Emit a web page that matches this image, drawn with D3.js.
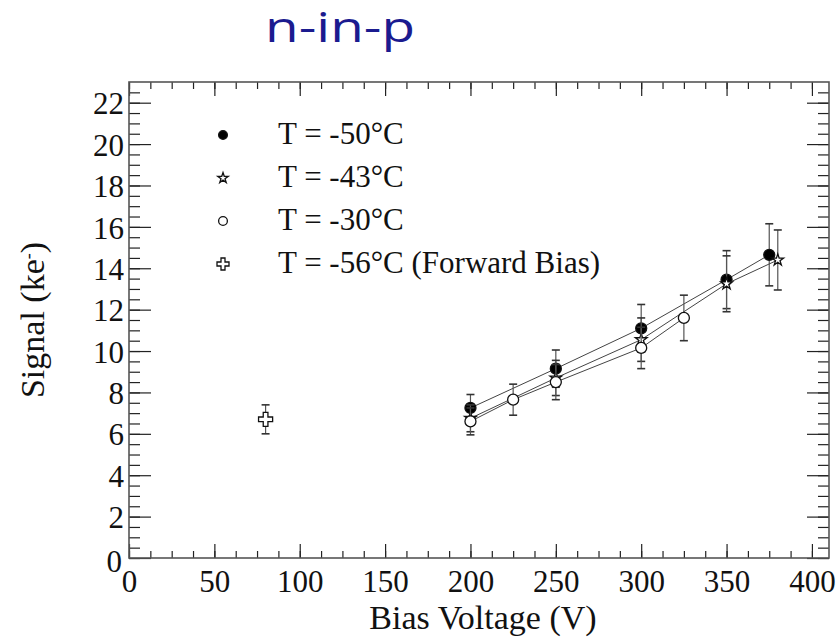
<!DOCTYPE html>
<html>
<head>
<meta charset="utf-8">
<script src="https://cdn.jsdelivr.net/npm/d3@7"></script>
<style>
  body { margin: 0; background: #fff; }
  svg text { font-family: "Liberation Serif", "Times New Roman", serif; fill: #111; }
</style>
</head>
<body>
<div id="chart"></div>
<script>
// data
var xTickValues = [0, 50, 100, 150, 200, 250, 300, 350, 400];
var yTickValues = [0, 2, 4, 6, 8, 10, 12, 14, 16, 18, 20, 22];

var voltsM50 = [200, 250, 300, 350, 375];
var signalM50 = [7.25, 9.15, 11.1, 13.45, 14.65];
var errM50 = [0.65, 0.9, 1.15, 1.4, 1.5];

var voltsM43 = [200, 250, 300, 350, 380];
var signalM43 = [6.75, 8.7, 10.55, 13.25, 14.4];
var errM43 = [0.65, 0.85, 1.05, 1.35, 1.45];

var voltsM30 = [200, 225, 250, 300, 325];
var signalM30 = [6.6, 7.65, 8.5, 10.15, 11.6];
var errM30 = [0.65, 0.75, 0.85, 1.0, 1.1];

var voltsFwd = [80];
var signalFwd = [6.7];
var errFwd = [0.7];

var legendLabels = ["T = -50°C", "T = -43°C", "T = -30°C", "T = -56°C (Forward Bias)"];

var width = 837, height = 639;
var frameL = 129, frameR = 829, frameT = 82, frameB = 558;

var svg = d3.select("#chart").append("svg")
  .attr("width", width)
  .attr("height", height);

var x = d3.scaleLinear().domain([0, 410]).range([frameL, frameR]);
var y = d3.scaleLinear().domain([0, 23]).range([frameB, frameT]);

//title
svg.append("text")
  .attr("x", 265).attr("y", 42)
  .attr("textLength", 150).attr("lengthAdjust", "spacingAndGlyphs")
  .style("font-family", "'Open Sans', 'DejaVu Sans', sans-serif")
  .style("font-size", "42px")
  .style("fill", "#1b1b8f")
  .text("n-in-p");

//minor ticks, every 12.5 V and 0.5 ke
var xMinor = d3.range(0, 410, 12.5);
var yMinor = d3.range(0, 23, 0.5);

function tickGroup(axis, tx, ty) {
  var g = svg.append("g").attr("transform", "translate(" + tx + "," + ty + ")").call(axis);
  g.select(".domain").remove();
  g.selectAll("line").attr("stroke", "#222").attr("stroke-width", 1.2);
  g.selectAll("text").remove();
  return g;
}

// bottom / top
tickGroup(d3.axisTop(x).tickValues(xMinor).tickSize(7), 0, frameB);
tickGroup(d3.axisTop(x).tickValues(xTickValues).tickSize(14), 0, frameB);
tickGroup(d3.axisBottom(x).tickValues(xMinor).tickSize(7), 0, frameT);
tickGroup(d3.axisBottom(x).tickValues(xTickValues).tickSize(14), 0, frameT);
// left / right
tickGroup(d3.axisRight(y).tickValues(yMinor).tickSize(11), frameL, 0);
tickGroup(d3.axisRight(y).tickValues(yTickValues).tickSize(22), frameL, 0);
tickGroup(d3.axisLeft(y).tickValues(yMinor).tickSize(11), frameR, 0);
tickGroup(d3.axisLeft(y).tickValues(yTickValues).tickSize(22), frameR, 0);

// frame
svg.append("rect")
  .attr("x", frameL).attr("y", frameT)
  .attr("width", frameR - frameL).attr("height", frameB - frameT)
  .attr("fill", "none").attr("stroke", "#555").attr("stroke-width", 1.6);

// tick labels
var xLab = svg.append("g").attr("transform", "translate(0," + frameB + ")")
  .call(d3.axisBottom(x).tickValues(xTickValues).tickSize(0).tickPadding(0));
xLab.select(".domain").remove();
xLab.selectAll("text")
  .attr("y", 34).attr("dy", null)
  .style("font-size", "31px").style("font-family", "'Liberation Serif', serif").attr("fill", "#111");

var yLab = svg.append("g").attr("transform", "translate(" + frameL + ",0)")
  .call(d3.axisLeft(y).tickValues(yTickValues).tickSize(0).tickPadding(0));
yLab.select(".domain").remove();
yLab.selectAll("text")
  .attr("x", -5).attr("dy", "0.36em")
  .style("font-size", "31px").style("font-family", "'Liberation Serif', serif").attr("fill", "#111");
yLab.selectAll("text").filter(function (d) { return d === 0; }).attr("dy", "0.45em").attr("x", -7);

// axis titles
svg.append("text")
  .attr("x", (frameL + frameR) / 2 + 4).attr("y", 629)
  .attr("text-anchor", "middle")
  .style("font-size", "34px")
  .text("Bias Voltage (V)");

var yt = svg.append("text")
  .attr("transform", "translate(44," + ((frameT + frameB) / 2) + ") rotate(-90)")
  .attr("text-anchor", "middle")
  .style("font-size", "34px");
yt.append("tspan").text("Signal (ke");
yt.append("tspan").attr("baseline-shift", "super").style("font-size", "18px").text("-");
yt.append("tspan").text(")");

// series
var series = [
  { v: voltsM50, s: signalM50, e: errM50, sym: d3.symbolCircle, size: 95, legSize: 60, fill: "#000" },
  { v: voltsM43, s: signalM43, e: errM43, sym: d3.symbolStar, size: 42, legSize: 34, fill: "#fff" },
  { v: voltsM30, s: signalM30, e: errM30, sym: d3.symbolCircle, size: 95, legSize: 60, fill: "#fff" },
  { v: voltsFwd, s: signalFwd, e: errFwd, sym: d3.symbolCross, size: 110, legSize: 80, fill: "#fff" }
];

var line = d3.line().x(function (d) { return x(d[0]); }).y(function (d) { return y(d[1]); });

series.forEach(function (ser) {
  var pts = ser.v.map(function (v, i) { return [v, ser.s[i], ser.e[i]]; });
  if (pts.length > 1) {
    svg.append("path").datum(pts)
      .attr("d", line)
      .attr("fill", "none").attr("stroke", "#444").attr("stroke-width", 1);
  }
  var g = svg.append("g");
  var eb = g.selectAll(".err").data(pts).enter().append("g").attr("class", "err");
  eb.append("line")
    .attr("x1", function (d) { return x(d[0]); }).attr("x2", function (d) { return x(d[0]); })
    .attr("y1", function (d) { return y(d[1] - d[2]); }).attr("y2", function (d) { return y(d[1] + d[2]); })
    .attr("stroke", "#555").attr("stroke-width", 1.2);
  [-1, 1].forEach(function (sgn) {
    eb.append("line")
      .attr("x1", function (d) { return x(d[0]) - 4; }).attr("x2", function (d) { return x(d[0]) + 4; })
      .attr("y1", function (d) { return y(d[1] + sgn * d[2]); }).attr("y2", function (d) { return y(d[1] + sgn * d[2]); })
      .attr("stroke", "#333").attr("stroke-width", 1.6);
  });
  g.selectAll(".mk").data(pts).enter().append("path").attr("class", "mk")
    .attr("transform", function (d) { return "translate(" + x(d[0]) + "," + y(d[1]) + ")"; })
    .attr("d", d3.symbol().type(ser.sym).size(ser.size))
    .attr("fill", ser.fill).attr("stroke", "#111").attr("stroke-width", 1.3);
});

// legend
var legY = [135, 178, 221, 264];
var leg = svg.append("g");
series.forEach(function (ser, i) {
  leg.append("path")
    .attr("transform", "translate(223," + legY[i] + ")")
    .attr("d", d3.symbol().type(ser.sym).size(ser.legSize))
    .attr("fill", ser.fill).attr("stroke", "#111").attr("stroke-width", 1.3);
  leg.append("text")
    .attr("x", 278).attr("y", legY[i] + 9)
    .style("font-size", "31px")
    .text(legendLabels[i]);
});
</script>
</body>
</html>
